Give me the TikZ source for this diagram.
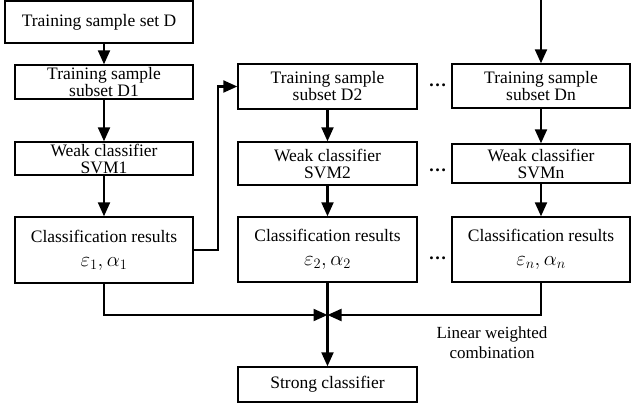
\documentclass[tikz,border=0pt]{standalone}
\usepackage{fontspec}
\setmainfont{Liberation Serif}
\usetikzlibrary{arrows.meta}

\newcommand{\weights}[2]{{\fontsize{22}{22}\selectfont$\varepsilon_{#1}{,}\,\alpha_{#2}$}}

\begin{document}
\begin{tikzpicture}[x=1pt,y=-1pt,
  box/.style={draw, line width=1.4pt, inner sep=0pt, align=center,
    minimum width=178pt, font=\fontsize{17.5}{17}\selectfont},
  wire/.style={line width=2.2pt},
  arr/.style={wire, -{Triangle[length=14pt,width=12pt]}},
  dots/.style={anchor=base, inner sep=0pt, font=\fontsize{18}{18}\selectfont\bfseries},
  note/.style={align=center, inner sep=0pt, font=\fontsize{17}{20}\selectfont}]
\useasboundingbox (0,0) rectangle (641,406);

% first column
\node[box, minimum width=188pt, minimum height=42pt] (setD) at (99,22) {Training sample set D};
\node[box, minimum height=34pt] (D1) at (104,82) {Training sample\\subset D1};
\node[box, minimum height=33pt] (S1) at (104,158.5) {Weak classifier\\SVM1};
\node[box, minimum height=66pt] (C1) at (104,250)
  {Classification results\\[7pt]\weights{1}{1}};

% second column
\node[box, minimum width=179pt, minimum height=45pt] (D2) at (327.5,86.5) {Training sample\\subset D2};
\node[box, minimum width=179pt, minimum height=43pt] (S2) at (327.5,163.5) {Weak classifier\\SVM2};
\node[box, minimum width=179pt, minimum height=65pt] (C2) at (327.5,249.5)
  {Classification results\\[7pt]\weights{2}{2}};
\node[box, minimum width=179pt, minimum height=35pt] (strong) at (327.5,384.5) {Strong classifier};

% last column
\node[box, minimum height=44pt] (Dn) at (541,86) {Training sample\\subset Dn};
\node[box, minimum height=39pt] (Sn) at (541,163.5) {Weak classifier\\SVMn};
\node[box, minimum height=65pt] (Cn) at (541,249.5)
  {Classification results\\[7pt]\weights{n}{n}};

% ellipses between the second and last columns
\node[dots] (dA) at (437.5,87) {\ldots};
\node[dots] (dB) at (437.5,172) {\ldots};
\node[dots] (dC) at (437.5,260) {\ldots};

% label of the combination step
\node[note] (lwc) at (492,343) {Linear weighted\\combination};

% connectors
\coordinate (topin) at (541,0);
\coordinate (join) at (327.5,315);

\draw[arr] (setD.south -| D1.north) -- (D1.north);
\draw[arr] (D1) -- (S1);
\draw[arr] (S1) -- (C1);
\draw[arr] (C1.east) -- ++(24,0) |- (D2.west);
\draw[arr] (D2) -- (S2);
\draw[arr] (S2) -- (C2);
\draw[arr] (topin) -- (Dn.north);
\draw[arr] (Dn) -- (Sn);
\draw[arr] (Sn) -- (Cn);
\draw[arr] (C1.south) |- (join);
\draw[arr] (Cn.south) |- (join);
\draw[arr] (C2.south) -- (strong.north);
\end{tikzpicture}
\end{document}
